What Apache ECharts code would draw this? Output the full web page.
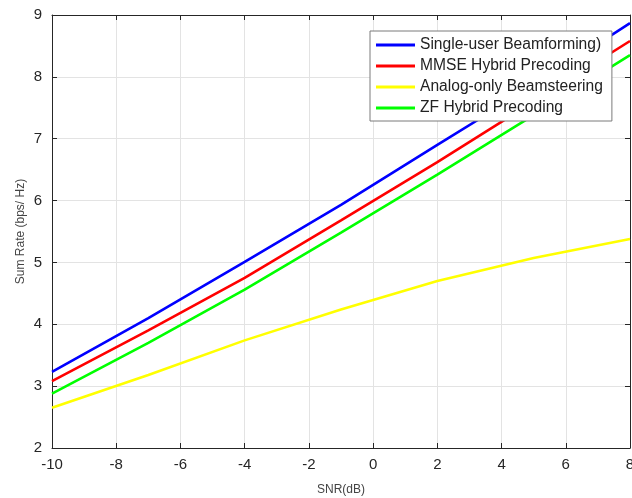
<!DOCTYPE html>
<html>
<head>
<meta charset="utf-8">
<script src="https://cdn.jsdelivr.net/npm/echarts@6/dist/echarts.min.js"></script>
<style>
  html, body { margin: 0; padding: 0; background: #fff; }
  #chart { width: 632px; height: 498px; }
</style>
</head>
<body>
<div id="chart"></div>
<script>
// SNR points (dB)
const snr = [-10, -7, -4, -1, 2, 5, 8];

// sum rate per scheme (bps/Hz)
const singleUser = [3.23, 4.10, 5.01, 5.93, 6.90, 7.86, 8.87];
const mmseHybrid = [3.08, 3.90, 4.75, 5.68, 6.62, 7.60, 8.58];
const analogOnly = [2.65, 3.18, 3.74, 4.24, 4.70, 5.07, 5.38];
const zfHybrid = [2.88, 3.70, 4.56, 5.48, 6.42, 7.38, 8.35];

const seriesNames = [
  'Single-user Beamforming)',
  'MMSE Hybrid Precoding',
  'Analog-only Beamsteering',
  'ZF Hybrid Precoding'
];
const seriesColors = ['#0000ff', '#ff0000', '#ffff00', '#00ff00'];
const seriesData = [singleUser, mmseHybrid, analogOnly, zfHybrid];

const font = 'Arial, "Liberation Sans", Helvetica, sans-serif';

const chart = echarts.init(document.getElementById('chart'));

const series = seriesNames.map((name, i) => ({
  name: name,
  type: 'line',
  data: snr.map((x, j) => [x, seriesData[i][j]]),
  showSymbol: false,
  symbol: 'none',
  lineStyle: { color: seriesColors[i], width: 2.6 },
  itemStyle: { color: seriesColors[i] },
  z: 3
}));

chart.setOption({
  animation: false,
  backgroundColor: '#fff',
  grid: { left: 52, right: 2, top: 15, bottom: 50, containLabel: false, outerBoundsMode: 'none' },
  legend: {
    orient: 'vertical',
    left: 370,
    top: 31,
    data: seriesNames,
    icon: 'rect',
    itemWidth: 39,
    itemHeight: 3,
    itemGap: 5,
    padding: [6, 9, 5, 6],
    backgroundColor: '#fff',
    borderColor: '#7a7a7a',
    borderWidth: 1,
    textStyle: { fontFamily: font, fontSize: 15.6, color: '#222', lineHeight: 16 }
  },
  xAxis: [
    {
      type: 'value',
      min: -10, max: 8, interval: 2,
      position: 'bottom',
      name: 'SNR(dB)',
      nameLocation: 'middle',
      nameGap: 36,
      nameMoveOverlap: false,
      nameTextStyle: { fontFamily: font, fontSize: 12, color: '#444' },
      axisLine: { show: true, onZero: false, lineStyle: { color: '#262626', width: 1 } },
      axisTick: { show: true, inside: true, length: 5, lineStyle: { color: '#262626' } },
      axisLabel: { fontFamily: font, fontSize: 15, color: '#262626', margin: 9 },
      splitLine: { show: true, lineStyle: { color: '#e3e3e3', width: 1 } }
    },
    {
      type: 'value',
      min: -10, max: 8, interval: 2,
      position: 'top',
      axisLine: { show: true, onZero: false, lineStyle: { color: '#262626', width: 1 } },
      axisTick: { show: true, inside: true, length: 5, lineStyle: { color: '#262626' } },
      axisLabel: { show: false },
      splitLine: { show: false }
    }
  ],
  yAxis: [
    {
      type: 'value',
      min: 2, max: 9, interval: 1,
      position: 'left',
      name: 'Sum Rate (bps/ Hz)',
      nameLocation: 'middle',
      nameGap: 25,
      nameMoveOverlap: false,
      nameTextStyle: { fontFamily: font, fontSize: 12, color: '#444' },
      axisLine: { show: true, onZero: false, lineStyle: { color: '#262626', width: 1 } },
      axisTick: { show: true, inside: true, length: 5, lineStyle: { color: '#262626' } },
      axisLabel: { fontFamily: font, fontSize: 15, color: '#262626', margin: 10 },
      splitLine: { show: true, lineStyle: { color: '#e3e3e3', width: 1 } }
    },
    {
      type: 'value',
      min: 2, max: 9, interval: 1,
      position: 'right',
      axisLine: { show: true, onZero: false, lineStyle: { color: '#262626', width: 1 } },
      axisTick: { show: true, inside: true, length: 5, lineStyle: { color: '#262626' } },
      axisLabel: { show: false },
      splitLine: { show: false }
    }
  ],
  series: series
});
</script>
</body>
</html>
